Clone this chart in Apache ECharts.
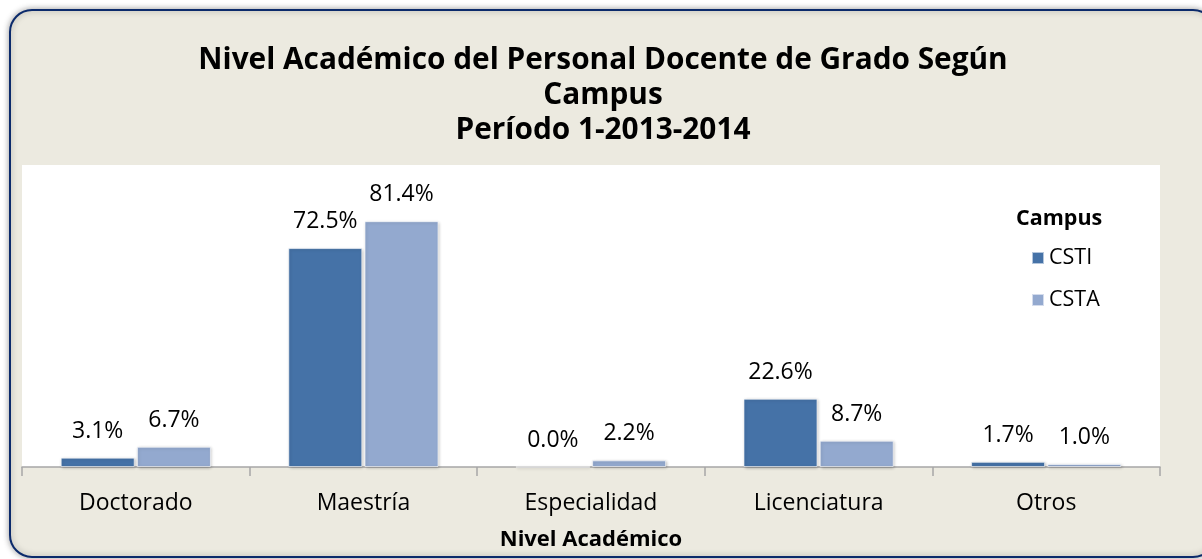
<!DOCTYPE html>
<html lang="es">
  <head>
    <meta charset="UTF-8" />
    <title>Nivel Académico</title>
    <script src="https://cdn.jsdelivr.net/npm/echarts@6/dist/echarts.min.js"></script>
    <style>
      html, body { margin: 0; padding: 0; background: #ffffff; }
      #main { width: 1202px; height: 559px; }
    </style>
  </head>
  <body>
    <div id="main"></div>
    <script>
      // datos
      var categorias = ["Doctorado", "Maestría", "Especialidad", "Licenciatura", "Otros"];
      var csti = [3.1, 72.5, 0.0, 22.6, 1.7];
      var csta = [6.7, 81.4, 2.2, 8.7, 1.0];
      var seriesNames = ["CSTI", "CSTA"];

      var fuente = "'Open Sans', 'Noto Sans', sans-serif";

      var myChart = echarts.init(document.getElementById("main"));

      function serie(name, data, color) {
        return {
          name: name,
          type: "bar",
          data: data,
          barGap: "3%",
          barCategoryGap: "34%",
          itemStyle: {
            color: color,
            borderColor: "rgba(255,255,255,0.6)",
            borderWidth: 1,
            shadowColor: "rgba(0,0,0,0.25)",
            shadowBlur: 3,
            shadowOffsetX: 1,
            shadowOffsetY: 1
          },
          label: {
            show: true,
            position: "top",
            distance: 15,
            fontFamily: fuente,
            fontSize: 23,
            lineHeight: 23,
            color: "#000",
            formatter: function (p) {
              return p.value.toFixed(1) + "%";
            }
          }
        };
      }

      var option = {
        backgroundColor: "#ffffff",
        animation: false,
        graphic: [
          {
            type: "rect",
            z: -10,
            shape: { x: 10, y: 10, width: 1205, height: 547, r: 22 },
            style: {
              fill: "#ECEAE0",
              stroke: "#0B2A6B",
              lineWidth: 2,
              shadowBlur: 6,
              shadowColor: "rgba(0,0,0,0.35)"
            }
          },
          {
            type: "text",
            left: 1016,
            top: 208,
            style: {
              text: "Campus",
              fontFamily: fuente,
              fontSize: 21.5,
              fontWeight: "bold",
              fill: "#000"
            }
          }
        ],
        title: {
          text: "Nivel Académico del Personal Docente de Grado Según\nCampus\nPeríodo 1-2013-2014",
          left: 598,
          textAlign: "center",
          top: 38,
          textStyle: {
            fontFamily: fuente,
            fontWeight: "bold",
            fontSize: 29.8,
            lineHeight: 35,
            color: "#000"
          }
        },
        legend: {
          data: seriesNames,
          orient: "vertical",
          left: 1026,
          top: 242,
          itemWidth: 12,
          itemHeight: 12,
          itemGap: 20,
          icon: "rect",
          textStyle: {
            fontFamily: fuente,
            fontSize: 21.5,
            color: "#000"
          }
        },
        grid: {
          show: true,
          left: 22,
          right: 42,
          top: 165,
          bottom: 92,
          backgroundColor: "#ffffff",
          borderWidth: 0
        },
        xAxis: {
          type: "category",
          data: categorias,
          name: "Nivel Académico",
          nameLocation: "middle",
          nameGap: 62,
          nameTextStyle: {
            fontFamily: fuente,
            fontSize: 22,
            fontWeight: "bold",
            color: "#000"
          },
          axisLine: { lineStyle: { color: "#A6A6A6", width: 1.5 } },
          axisTick: { show: true, length: 9, lineStyle: { color: "#A6A6A6", width: 1.5 } },
          axisLabel: {
            fontFamily: fuente,
            fontSize: 23,
            color: "#000",
            margin: 25
          }
        },
        yAxis: {
          type: "value",
          min: 0,
          max: 100,
          show: false,
          splitLine: { show: false }
        },
        series: [
          serie(seriesNames[0], csti, "#4572A7"),
          serie(seriesNames[1], csta, "#93A9CF")
        ]
      };

      myChart.setOption(option);
    </script>
  </body>
</html>
